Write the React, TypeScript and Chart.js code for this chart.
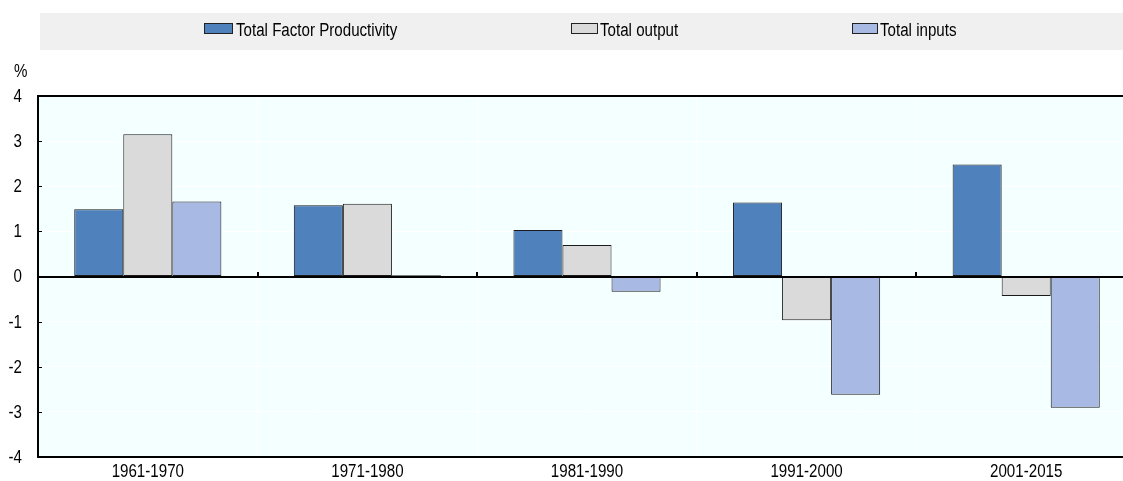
import React, { useEffect, useRef } from 'react';
import { Chart, registerables } from 'chart.js';

Chart.register(...registerables);

const categories = ['1961-1970', '1971-1980', '1981-1990', '1991-2000', '2001-2015'];
const tfpValues = [1.49, 1.58, 1.03, 1.64, 2.48];
const outputValues = [3.15, 1.61, 0.70, -0.97, -0.43];
const inputValues = [1.66, 0.03, -0.34, -2.62, -2.91];
const seriesLabels = ['Total Factor Productivity', 'Total output', 'Total inputs'];
const seriesColors = ['#4F81BD', '#DADADA', '#A8B9E3'];
const yTickValues = [-4, -3, -2, -1, 0, 1, 2, 3, 4];
const yMin = -4;
const yMax = 4;
const unitLabel = '%';

const FONT = "18px 'Liberation Sans', Arial, sans-serif";
const SQUEEZE = 0.84;

function narrowText(ctx: any, text: string, x: number, y: number, align: string) {
  ctx.save();
  ctx.translate(x, y);
  ctx.scale(SQUEEZE, 1);
  ctx.font = FONT;
  ctx.textAlign = align;
  ctx.textBaseline = 'middle';
  ctx.fillStyle = '#000';
  ctx.fillText(text, 0, 0);
  ctx.restore();
}

const decorPlugin = {
  id: 'decor',
  beforeDraw(chart: any) {
    const { ctx, chartArea, width } = chart;
    ctx.save();
    // legend band
    ctx.fillStyle = '#F0F0F0';
    ctx.fillRect(40, 13, width - 40, 37);
    // plot background
    ctx.fillStyle = '#F4FFFF';
    ctx.fillRect(chartArea.left, chartArea.top, chartArea.right - chartArea.left, chartArea.bottom - chartArea.top);
    // legend items
    const boxX = [204, 571, 852];
    const boxW = [29, 27, 26];
    const textX = [236, 600, 880];
    chart.data.datasets.forEach((ds: any, i: number) => {
      ctx.fillStyle = ds.backgroundColor;
      ctx.fillRect(boxX[i], 23, boxW[i], 11);
      ctx.strokeStyle = '#222';
      ctx.lineWidth = 1;
      ctx.strokeRect(boxX[i] + 0.5, 23.5, boxW[i] - 1, 10);
      narrowText(ctx, ds.label, textX[i], 31, 'left');
    });
    // unit label
    narrowText(ctx, unitLabel, 14, 72, 'left');
    ctx.restore();
  },
  afterDatasetsDraw(chart: any) {
    const { ctx, chartArea, scales } = chart;
    const y = scales.y;
    const x = scales.x;
    ctx.save();
    ctx.strokeStyle = '#000';
    // zero line
    const y0 = Math.round(y.getPixelForValue(0));
    ctx.lineWidth = 2;
    ctx.beginPath();
    ctx.moveTo(chartArea.left, y0);
    ctx.lineTo(chartArea.right, y0);
    ctx.stroke();
    // ticks on zero line at category boundaries
    const n = categories.length;
    for (let i = 1; i < n; i++) {
      const px = Math.round((x.getPixelForValue(i - 1) + x.getPixelForValue(i)) / 2);
      ctx.beginPath();
      ctx.moveTo(px, y0);
      ctx.lineTo(px, y0 - 5);
      ctx.stroke();
    }
    // inward ticks on y axis
    ctx.lineWidth = 1;
    yTickValues.forEach((v) => {
      const py = Math.round(y.getPixelForValue(v)) + 0.5;
      ctx.beginPath();
      ctx.moveTo(chartArea.left, py);
      ctx.lineTo(chartArea.left + 4, py);
      ctx.stroke();
    });
    ctx.restore();
  },
  afterDraw(chart: any) {
    const { ctx, scales } = chart;
    const y = scales.y;
    const x = scales.x;
    yTickValues.forEach((v) => {
      narrowText(ctx, String(v), 22, y.getPixelForValue(v) + 1, 'right');
    });
    categories.forEach((c, i) => {
      narrowText(ctx, c, x.getPixelForValue(i), 472, 'center');
    });
  },
};

export default function App() {
  const canvasRef = useRef<HTMLCanvasElement | null>(null);

  useEffect(() => {
    document.body.style.margin = '0';
    document.body.style.overflow = 'hidden';
    document.documentElement.style.overflow = 'hidden';
    const canvas = canvasRef.current;
    if (!canvas) return;
    const chart = new Chart(canvas, {
      type: 'bar',
      data: {
        labels: categories,
        datasets: [
          { label: seriesLabels[0], data: tfpValues, backgroundColor: seriesColors[0] },
          { label: seriesLabels[1], data: outputValues, backgroundColor: seriesColors[1] },
          { label: seriesLabels[2], data: inputValues, backgroundColor: seriesColors[2] },
        ].map((d) => ({
          ...d,
          borderColor: '#1A1A1A',
          borderWidth: 1,
          borderSkipped: false,
          barPercentage: 1,
          categoryPercentage: 0.67,
        })),
      },
      options: {
        responsive: false,
        animation: false,
        devicePixelRatio: 1,
        layout: { padding: { top: 96, left: 0, right: 4, bottom: 0 } },
        plugins: {
          legend: { display: false },
          tooltip: { enabled: false },
        },
        scales: {
          x: {
            offset: true,
            afterFit: (s: any) => {
              s.height = 24;
            },
            grid: {
              color: (c: any) => (c.index === 0 ? 'rgba(0,0,0,0)' : '#FFFFFF'),
              lineWidth: 1,
              drawTicks: false,
              offset: true,
            },
            border: { display: true, color: '#000', width: 2 },
            ticks: { display: false },
          },
          y: {
            min: yMin,
            max: yMax,
            afterFit: (s: any) => {
              s.width = 38;
            },
            grid: {
              color: (c: any) => {
                const v = c.tick ? c.tick.value : 0;
                return v === yMax || v === yMin ? '#000' : '#FFFFFF';
              },
              lineWidth: (c: any) => {
                const v = c.tick ? c.tick.value : 0;
                return v === yMax || v === yMin ? 2 : 1;
              },
              drawTicks: false,
            },
            border: { display: true, color: '#000', width: 2 },
            ticks: { stepSize: 1, display: false },
          },
        },
      },
      plugins: [decorPlugin],
    });
    return () => chart.destroy();
  }, []);

  return (
    <div style={{ width: 1140, height: 481, position: 'relative' }}>
      <canvas ref={canvasRef} width={1140} height={481} style={{ display: 'block', width: 1140, height: 481 }} />
    </div>
  );
}
